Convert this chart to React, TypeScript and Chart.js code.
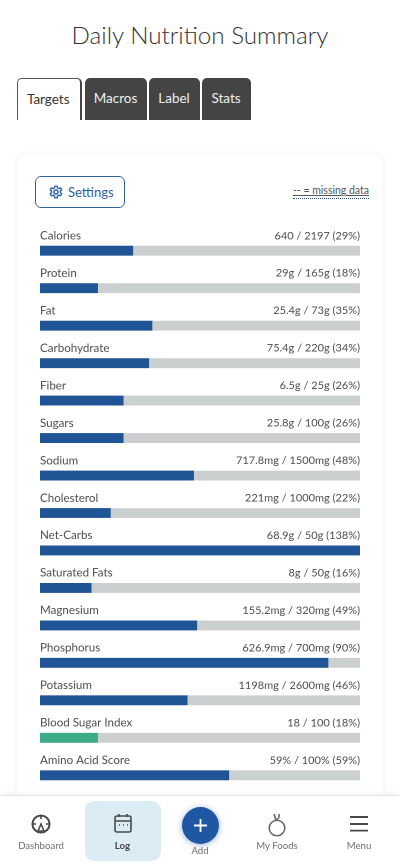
import React, { useEffect, useRef } from "react";
import { Chart, registerables } from "chart.js";

Chart.register(...registerables);

const nutrients = ["Calories", "Protein", "Fat", "Carbohydrate", "Fiber", "Sugars", "Sodium", "Cholesterol", "Net-Carbs", "Saturated Fats", "Magnesium", "Phosphorus", "Potassium", "Blood Sugar Index", "Amino Acid Score"];
const amounts = ["640", "29g", "25.4g", "75.4g", "6.5g", "25.8g", "717.8mg", "221mg", "68.9g", "8g", "155.2mg", "626.9mg", "1198mg", "18", "59%"];
const targets = ["2197", "165g", "73g", "220g", "25g", "100g", "1500mg", "1000mg", "50g", "50g", "320mg", "700mg", "2600mg", "100", "100%"];
const percents = [29, 18, 35, 34, 26, 26, 48, 22, 138, 16, 49, 90, 46, 18, 59];
const fullTrack = [100, 100, 100, 100, 100, 100, 100, 100, 100, 100, 100, 100, 100, 100, 100];
const tabs = ["Targets", "Macros", "Label", "Stats"];

const FONT = 'Lato, "Noto Sans", sans-serif';
const BLUE = "#1f5595";
const GREEN = "#3bab88";
const TRACK = "#cbcfd0";
const TEXT = "#4d4d4d";

const rowLabels = {
  id: "rowLabels",
  afterDatasetsDraw(chart: any) {
    const { ctx, chartArea } = chart;
    const bars = chart.getDatasetMeta(1).data;
    ctx.save();
    ctx.fillStyle = TEXT;
    ctx.textBaseline = "middle";
    bars.forEach((bar: any, i: number) => {
      const y = bar.y - 15;
      ctx.font = `11.6px ${FONT}`;
      ctx.textAlign = "left";
      ctx.fillText(nutrients[i], chartArea.left, y);
      ctx.font = `11px ${FONT}`;
      ctx.textAlign = "right";
      ctx.fillText(`${amounts[i]} / ${targets[i]} (${percents[i]}%)`, chartArea.right, y);
    });
    ctx.restore();
  },
};

const box = (l: number, t: number, w: number, h: number): React.CSSProperties => ({ position: "absolute", left: l, top: t, width: w, height: h, boxSizing: "border-box" });

const tabBoxes = [
  [17, 65],
  [84.5, 62],
  [148.5, 51],
  [201.5, 49],
];

const navLabel = (text: string, cx: number, top: number, bold = false) => (
  <div style={{ position: "absolute", left: cx - 40, width: 80, top, textAlign: "center", fontSize: 9.6, lineHeight: "12px", color: bold ? "#444" : "#6f6f6f", fontWeight: bold ? 700 : 400 }}>{text}</div>
);

export default function App() {
  const ref = useRef<HTMLCanvasElement>(null);
  useEffect(() => {
    document.body.style.margin = "0";
    document.body.style.background = "#fff";
    const chart = new Chart(ref.current!, {
      type: "bar",
      data: {
        labels: nutrients,
        datasets: [
          { data: fullTrack, backgroundColor: TRACK, barThickness: 9.2, order: 2, grouped: false } as any,
          { data: percents, backgroundColor: nutrients.map((n) => (n === "Blood Sugar Index" ? GREEN : BLUE)), barThickness: 9.2, order: 1, grouped: false } as any,
        ],
      },
      options: {
        indexAxis: "y",
        animation: false,
        responsive: false,
        devicePixelRatio: 2,
        layout: { padding: { top: 8, bottom: 0, left: 0, right: 0 } },
        plugins: { legend: { display: false }, tooltip: { enabled: false } },
        scales: {
          x: { display: false, min: 0, max: 100 },
          y: { display: false, grid: { display: false } },
        },
      },
      plugins: [rowLabels],
    });
    return () => chart.destroy();
  }, []);

  return (
    <div style={{ position: "relative", width: 400, height: 867, overflow: "hidden", background: "#fff", fontFamily: FONT, color: TEXT }}>
      <div style={{ position: "absolute", left: 0, width: 400, top: 17, textAlign: "center", fontSize: 24.2, lineHeight: "36px", fontWeight: 300, color: "#333" }}>Daily Nutrition Summary</div>

      {tabs.map((t, i) => (
        <div
          key={t}
          style={{
            ...box(tabBoxes[i][0], 78, tabBoxes[i][1], 42),
            borderRadius: "5px 5px 0 0",
            background: i === 0 ? "#fff" : "#444444",
            color: i === 0 ? "#333" : "#eee",
            border: i === 0 ? "1px solid #555" : "none",
            borderBottom: "none",
            borderRight: i === 0 ? "2px solid #444" : "none",
            textAlign: "center",
            fontSize: 13.5,
            lineHeight: "41px",
            paddingRight: i === 0 ? 1.5 : 0,
            fontWeight: 400,
          }}
        >
          {t}
        </div>
      ))}

      <div style={{ ...box(17, 155, 366, 700), background: "#fff", borderRadius: 6, boxShadow: "0 0 6px rgba(0,0,0,0.07)" }} />

      <div style={{ ...box(35, 176, 90, 32), border: "1px solid #2f62a3", borderRadius: 6, color: "#2f62a3", fontSize: 13, lineHeight: "30px", paddingLeft: 32 }}>
        <svg width="14" height="14" viewBox="0 0 24 24" style={{ position: "absolute", left: 13, top: 8 }} fill="none" stroke="#2f62a3" strokeWidth="2.4">
          <circle cx="12" cy="12" r="3.5" />
          <path d="M10 2h4l.6 3 2.4 1.2 2.8-1.2 2 3.4-2.3 2 .1 2.6 2.2 2-2 3.4-2.8-1-2.3 1.3L14 22h-4l-.7-3.2-2.3-1.3-2.8 1-2-3.4 2.2-2 0-2.6-2.2-2 2-3.4L7 6.2 9.4 5z" strokeLinejoin="round" />
        </svg>
        Settings
      </div>
      <div style={{ position: "absolute", right: 31, top: 183, fontSize: 10.5, lineHeight: "15px", color: "#555", textDecoration: "underline", borderBottom: "1px dotted #2f4f80" }}>-- = missing data</div>

      <div style={{ position: "absolute", left: 40, top: 223.6 }}>
        <canvas ref={ref} width={320} height={570.8} style={{ display: "block", width: 320, height: 570.8 }} />
      </div>

      <div style={{ ...box(0, 795, 400, 72), background: "#fff", borderTop: "1px solid #e6e6e6", boxShadow: "0 -2px 5px rgba(0,0,0,0.05)" }} />
      <div style={{ ...box(85, 801, 76, 60), background: "#dcecf5", borderRadius: 9 }} />

      <svg style={{ position: "absolute", left: 0, top: 795 }} width="400" height="72" fill="none" stroke="#4a4a4a" strokeWidth="1.6">
        <circle cx="41" cy="29" r="8.6" strokeWidth="2" />
        <path d="M41 21v3M33 29h3M46 29h3M41 29l-3 7h6z" />
        <rect x="115" y="21" width="16" height="16" rx="2" />
        <path d="M115 26h16M119 19v3M127 19v3" />
        <path d="M119 30h1M123 30h1M127 30h1" />
        <circle cx="277" cy="33" r="7.8" stroke="#666" />
        <path d="M276 25l-2-6M276 25c2-1 4-2 3-6" stroke="#666" />
        <path d="M350 22h18M350 29h18M350 35.7h18" strokeWidth="1.8" />
      </svg>

      <div style={{ position: "absolute", left: 181.5, top: 806.5, width: 37, height: 37, borderRadius: "50%", background: "#1f57a3", boxShadow: "0 1px 6px rgba(31,87,163,0.45)" }}>
        <svg width="37" height="37" style={{ position: "absolute", left: 0, top: 0 }}>
          <path d="M18.5 12v13M12 18.5h13" stroke="#fff" strokeWidth="1.8" />
        </svg>
      </div>

      {navLabel("Dashboard", 41, 840)}
      {navLabel("Log", 122.5, 840, true)}
      {navLabel("Add", 200, 845)}
      {navLabel("My Foods", 277, 840)}
      {navLabel("Menu", 359, 840)}
    </div>
  );
}
